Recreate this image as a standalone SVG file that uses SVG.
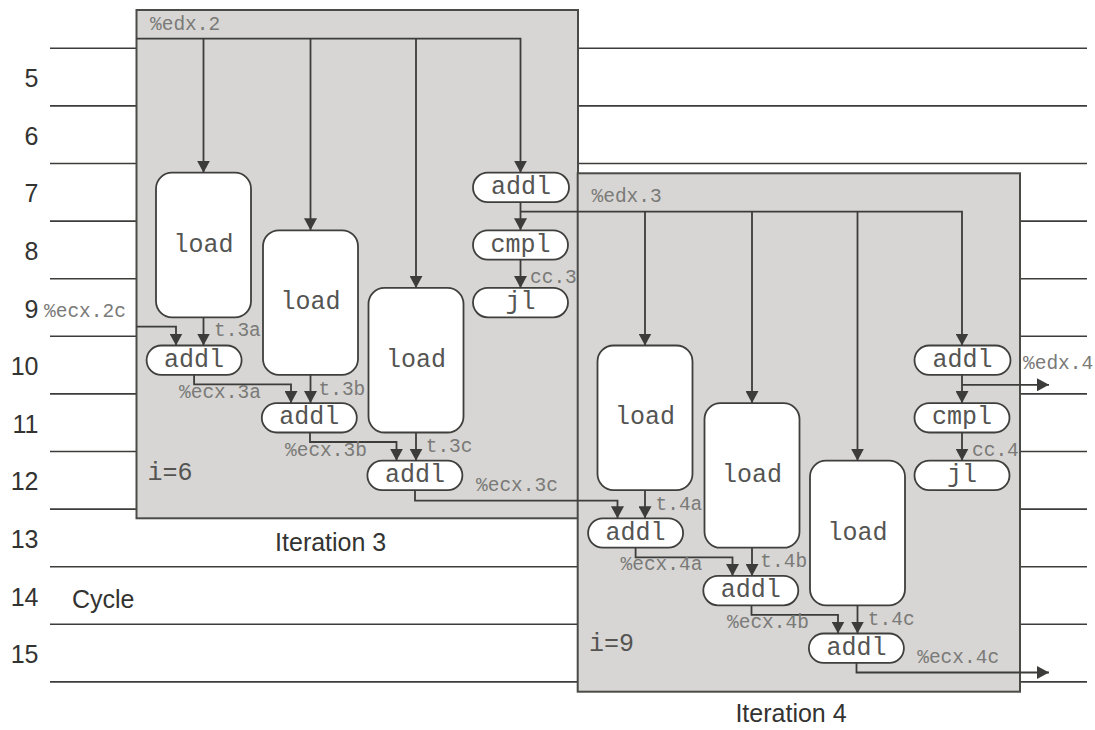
<svg xmlns="http://www.w3.org/2000/svg" width="1095" height="730" viewBox="0 0 1095 730">
<defs>
<style>
.grid{stroke:#3c3c3a;stroke-width:1.6}
.box{fill:#d7d6d4;stroke:#4a4a47;stroke-width:2}
.node{fill:#fff;stroke:#3f3f3c;stroke-width:1.8}
.nl{font-family:"Liberation Mono","Courier New",monospace;font-size:25px;fill:#545452;text-anchor:middle}
.lbl{font-family:"Liberation Mono","Courier New",monospace;font-size:19.5px;fill:#7a7a78}
.big{font-family:"Liberation Sans",Arial,sans-serif;font-size:25px;fill:#333331}
.num{font-family:"Liberation Sans",Arial,sans-serif;font-size:25px;fill:#333331;text-anchor:end}
.conn path{fill:none;stroke:#3c3c3a;stroke-width:1.8}
.arr{marker-end:url(#ah)}
</style>
<marker id="ah" markerUnits="userSpaceOnUse" markerWidth="12" markerHeight="13" refX="12" refY="6.5" orient="auto" viewBox="0 0 12 13">
<path d="M0,0 L12,6.5 L0,13 z" fill="#3c3c3a"/>
</marker>
</defs>
<rect width="1095" height="730" fill="#fff"/>
<g id="grid">
<line class="grid" x1="50" y1="48.3" x2="1087" y2="48.3"/>
<line class="grid" x1="50" y1="105.9" x2="1087" y2="105.9"/>
<line class="grid" x1="50" y1="163.5" x2="1087" y2="163.5"/>
<line class="grid" x1="50" y1="221.1" x2="1087" y2="221.1"/>
<line class="grid" x1="50" y1="278.7" x2="1087" y2="278.7"/>
<line class="grid" x1="50" y1="336.3" x2="1087" y2="336.3"/>
<line class="grid" x1="50" y1="393.9" x2="1087" y2="393.9"/>
<line class="grid" x1="50" y1="451.5" x2="1087" y2="451.5"/>
<line class="grid" x1="50" y1="509.1" x2="1087" y2="509.1"/>
<line class="grid" x1="50" y1="566.7" x2="1087" y2="566.7"/>
<line class="grid" x1="50" y1="624.3" x2="1087" y2="624.3"/>
<line class="grid" x1="50" y1="681.9" x2="1087" y2="681.9"/>
</g>
<g id="cycles">
<text class="num" x="38.5" y="87">5</text>
<text class="num" x="38.5" y="145">6</text>
<text class="num" x="38.5" y="202">7</text>
<text class="num" x="38.5" y="260">8</text>
<text class="num" x="38.5" y="317.5">9</text>
<text class="num" x="38.5" y="375">10</text>
<text class="num" x="38.5" y="433">11</text>
<text class="num" x="38.5" y="490">12</text>
<text class="num" x="38.5" y="548">13</text>
<text class="num" x="38.5" y="605.5">14</text>
<text class="num" x="38.5" y="663">15</text>
<text class="big" x="72" y="607.5">Cycle</text>
</g>
<g id="iteration3">
<rect class="box" x="136.5" y="10" width="441.5" height="508.3"/>
<text class="big" x="330.7" y="551" text-anchor="middle">Iteration 3</text>
<text class="nl" x="170" y="479.5" text-anchor="start">i=6</text>
</g>
<g id="iteration4">
<rect class="box" x="577.7" y="173.3" width="442.3" height="518.4"/>
<text class="big" x="791" y="722" text-anchor="middle">Iteration 4</text>
<text class="nl" x="611.5" y="651" text-anchor="start">i=9</text>
</g>
<g id="load3a"><rect class="node" x="156" y="172.7" width="95" height="144.6" rx="16"/><text class="nl" x="203.5" y="251.5">load</text></g>
<g id="load3b"><rect class="node" x="263" y="230.3" width="95" height="144.6" rx="16"/><text class="nl" x="310.5" y="309.1">load</text></g>
<g id="load3c"><rect class="node" x="368.5" y="287.9" width="95" height="144.6" rx="16"/><text class="nl" x="416" y="366.7">load</text></g>
<g id="addl3"><rect class="node" x="473" y="172.7" width="96" height="29.4" rx="14.7"/><text class="nl" x="521" y="194">addl</text></g>
<g id="cmpl3"><rect class="node" x="473" y="230.3" width="95" height="29.4" rx="14.7"/><text class="nl" x="520.5" y="251.6">cmpl</text></g>
<g id="jl3"><rect class="node" x="473" y="287.9" width="95" height="29.4" rx="14.7"/><text class="nl" x="520.5" y="309.2">jl</text></g>
<g id="addl3a"><rect class="node" x="146.6" y="345.5" width="95" height="29.4" rx="14.7"/><text class="nl" x="194.1" y="366.8">addl</text></g>
<g id="addl3b"><rect class="node" x="261.8" y="403.1" width="95" height="29.4" rx="14.7"/><text class="nl" x="309.3" y="424.4">addl</text></g>
<g id="addl3c"><rect class="node" x="367.4" y="460.7" width="95" height="29.4" rx="14.7"/><text class="nl" x="414.9" y="482">addl</text></g>
<g id="load4a"><rect class="node" x="597.5" y="345.5" width="95" height="144.6" rx="16"/><text class="nl" x="645" y="424.3">load</text></g>
<g id="load4b"><rect class="node" x="704.5" y="403.1" width="95" height="144.6" rx="16"/><text class="nl" x="752" y="481.9">load</text></g>
<g id="load4c"><rect class="node" x="810" y="460.7" width="95" height="144.6" rx="16"/><text class="nl" x="857.5" y="539.5">load</text></g>
<g id="addl4"><rect class="node" x="914.5" y="345.5" width="96" height="29.4" rx="14.7"/><text class="nl" x="962.5" y="366.8">addl</text></g>
<g id="cmpl4"><rect class="node" x="914.5" y="403.1" width="95" height="29.4" rx="14.7"/><text class="nl" x="962" y="424.4">cmpl</text></g>
<g id="jl4"><rect class="node" x="914.5" y="460.7" width="95" height="29.4" rx="14.7"/><text class="nl" x="962" y="482">jl</text></g>
<g id="addl4a"><rect class="node" x="588.1" y="518.3" width="95" height="29.4" rx="14.7"/><text class="nl" x="635.6" y="539.6">addl</text></g>
<g id="addl4b"><rect class="node" x="703.3" y="575.9" width="95" height="29.4" rx="14.7"/><text class="nl" x="750.8" y="597.2">addl</text></g>
<g id="addl4c"><rect class="node" x="808.9" y="633.5" width="95" height="29.4" rx="14.7"/><text class="nl" x="856.4" y="654.8">addl</text></g>
<g class="conn" id="connectors">
<path class="arr" d="M136.5,38.7 H520.5 V172.7"/>
<path class="arr" d="M203.5,38.7 V172.7"/>
<path class="arr" d="M310.5,38.7 V230.3"/>
<path class="arr" d="M416,38.7 V287.9"/>
<path class="arr" d="M520.5,202.1 V230.3"/>
<path class="arr" d="M520.5,211.7 H962 V345.5"/>
<path class="arr" d="M645,211.7 V345.5"/>
<path class="arr" d="M752,211.7 V403.1"/>
<path class="arr" d="M857.5,211.7 V460.7"/>
<path class="arr" d="M520.5,259.7 V287.9"/>
<path class="arr" d="M136.5,326.7 H176 V345.5"/>
<path class="arr" d="M203.5,317.3 V345.5"/>
<path class="arr" d="M194.1,374.9 V384.3 H291 V403.1"/>
<path class="arr" d="M310.5,374.9 V403.1"/>
<path class="arr" d="M310,432.5 V442 H396.5 V460.7"/>
<path class="arr" d="M416,432.5 V460.7"/>
<path class="arr" d="M415,490.1 V500.7 H617.5 V518.3"/>
<path class="arr" d="M645,490.1 V518.3"/>
<path class="arr" d="M635.6,547.7 V557.3 H732.5 V575.9"/>
<path class="arr" d="M752,547.7 V575.9"/>
<path class="arr" d="M751.5,605.3 V614.8 H838 V633.5"/>
<path class="arr" d="M857.5,605.3 V633.5"/>
<path class="arr" d="M856.5,662.9 V672.5 H1049"/>
<path class="arr" d="M962,374.9 V403.1"/>
<path class="arr" d="M962,384.8 H1049"/>
<path class="arr" d="M962,432.5 V460.7"/>
</g>
<g id="labels">
<text class="lbl" x="150" y="30">%edx.2</text>
<text class="lbl" x="591.5" y="202">%edx.3</text>
<text class="lbl" x="44" y="317">%ecx.2c</text>
<text class="lbl" x="214" y="336">t.3a</text>
<text class="lbl" x="179" y="398">%ecx.3a</text>
<text class="lbl" x="318.5" y="394.5">t.3b</text>
<text class="lbl" x="285" y="455.5">%ecx.3b</text>
<text class="lbl" x="425.7" y="451.5">t.3c</text>
<text class="lbl" x="476" y="490.5">%ecx.3c</text>
<text class="lbl" x="530" y="283">cc.3</text>
<text class="lbl" x="1023" y="369">%edx.4</text>
<text class="lbl" x="655.5" y="509.5">t.4a</text>
<text class="lbl" x="620.5" y="570">%ecx.4a</text>
<text class="lbl" x="760.3" y="567">t.4b</text>
<text class="lbl" x="727" y="628">%ecx.4b</text>
<text class="lbl" x="867.8" y="624.5">t.4c</text>
<text class="lbl" x="917.2" y="663">%ecx.4c</text>
<text class="lbl" x="972" y="456">cc.4</text>
</g>
</svg>
